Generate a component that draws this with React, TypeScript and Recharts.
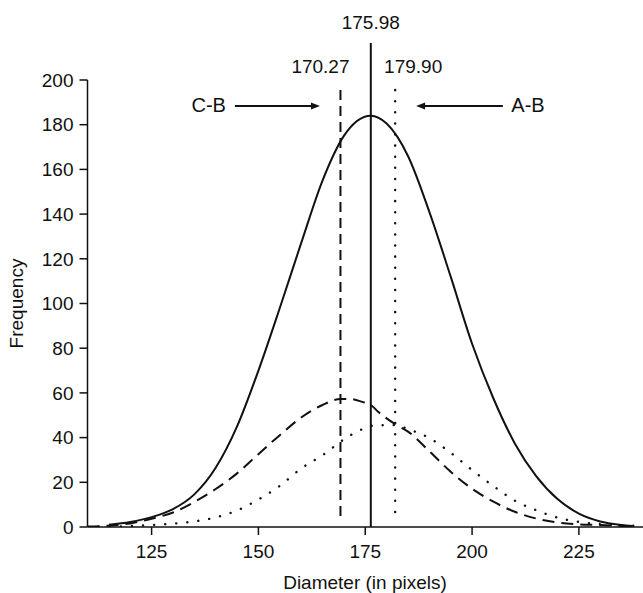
import React from 'react';
import { LineChart, Line, XAxis, YAxis, ReferenceLine } from 'recharts';

const FONT = '"Liberation Sans", Arial, Helvetica, sans-serif';
const INK = '#111111';

const xTicks = [125, 150, 175, 200, 225];
const yTicks = [0, 20, 40, 60, 80, 100, 120, 140, 160, 180, 200];

// Combined (solid) curve
const solidX = [115, 120, 125, 130, 135, 140, 145, 150, 155, 160, 165, 170, 176.3, 180, 185, 190, 195, 200, 205, 210, 215, 220, 225, 230, 235, 237.5];
const solidY = [1.0, 2.2, 4.4, 8.0, 14.6, 26.5, 45, 70, 98, 127, 155, 175, 184, 180.5, 166, 141, 112, 82, 57.5, 37.4, 22.8, 12.5, 6.0, 2.5, 0.9, 0.4];

// C-B (dashed) curve
const dashedX = [110, 115, 120, 125, 130, 135, 140, 145, 150, 155, 160, 165, 169.2, 171.5, 174.3, 176.3, 178, 182, 185, 190, 195, 200, 205, 210, 215, 220, 225, 230, 235, 238];
const dashedY = [0.2, 0.6, 1.6, 3.7, 6.5, 11.2, 17.0, 24, 32.6, 41.1, 49, 54.6, 57.3, 57.3, 56, 54.6, 51.6, 46, 42.7, 33.9, 24.7, 17.1, 11.3, 6.8, 3.8, 2.0, 1.2, 0.9, 0.5, 0.3];

// A-B (dotted) curve
const dottedX = [110, 115, 120, 125, 130, 135, 140, 145, 150, 155, 160, 165, 170, 174, 177, 182, 185, 190, 195, 200, 205, 210, 215, 220, 225, 230, 235, 239];
const dottedY = [0.1, 0.2, 0.4, 0.9, 1.5, 2.5, 4.3, 7.4, 12.3, 18.4, 26.2, 32.1, 39.2, 43.5, 45.4, 45.6, 43.8, 39.8, 33.2, 25.5, 18.3, 11.8, 7.5, 4.2, 2.3, 1.3, 0.8, 0.4];

// Mean markers (position) and their printed labels
const meanCB = 169.2;
const meanAll = 176.3;
const meanAB = 182;
const meanLabels = ['170.27', '175.98', '179.90'];

const toPoints = (xs: number[], ys: number[]) => xs.map((x, i) => ({ x, y: ys[i] }));
const solidData = toPoints(solidX, solidY);
const dashedData = toPoints(dashedX, dashedY);
const dottedData = toPoints(dottedX, dottedY);

const DOTTED = { strokeDasharray: '0.1 11', strokeLinecap: 'round' as const, strokeWidth: 2.4 };

const vLineShape = (label: string, dx: number, dy: number, style: any) => (p: any) => {
  const top = Math.min(p.y1, p.y2);
  return (
    <g>
      <line x1={p.x1} y1={p.y1} x2={p.x2} y2={p.y2} stroke={INK} strokeWidth={2} {...style} />
      <text x={p.x1 + dx} y={top + dy} textAnchor="middle" fontSize={19} fontFamily={FONT} fill={INK}>
        {label}
      </text>
    </g>
  );
};

const arrowShape = (label: string, side: 'left' | 'right') => (p: any) => {
  const dir = p.x2 > p.x1 ? 1 : -1;
  const y = p.y1;
  const headLen = 9;
  const tx = side === 'left' ? p.x1 - 9 : p.x1 + 8.5;
  return (
    <g>
      <line x1={p.x1} y1={y} x2={p.x2 - dir * (headLen - 1)} y2={y} stroke={INK} strokeWidth={2} />
      <polygon
        points={`${p.x2},${y} ${p.x2 - dir * headLen},${y - 3.5} ${p.x2 - dir * headLen},${y + 3.5}`}
        fill={INK}
      />
      <text x={tx} y={y + 6} textAnchor={side === 'left' ? 'end' : 'start'} fontSize={20} fontFamily={FONT} fill={INK}>
        {label}
      </text>
    </g>
  );
};

const tickStyle = { fontSize: 19, fontFamily: FONT, fill: INK };

export default function App() {
  return (
    <div style={{ position: 'absolute', left: 0, top: 0, background: '#fff' }}>
      <LineChart width={643} height={593} margin={{ top: 80, right: 0, bottom: 6, left: 27.5 }}>
        <XAxis
          type="number"
          dataKey="x"
          domain={[110, 240]}
          allowDataOverflow
          ticks={xTicks}
          tickSize={8}
          tickMargin={10}
          height={60}
          stroke={INK}
          strokeWidth={1.5}
          tick={tickStyle}
          tickLine={{ stroke: INK, strokeWidth: 1.5 }}
          axisLine={{ stroke: INK, strokeWidth: 1.5 }}
          label={() => (
            <text x={365} y={589} textAnchor="middle" fontSize={19} fontFamily={FONT} fill={INK}>
              Diameter (in pixels)
            </text>
          )}
        />
        <YAxis
          type="number"
          domain={[0, 200]}
          allowDataOverflow
          ticks={yTicks}
          tickSize={8}
          tickMargin={6}
          width={60}
          stroke={INK}
          strokeWidth={1.5}
          tick={tickStyle}
          tickLine={{ stroke: INK, strokeWidth: 1.5 }}
          axisLine={{ stroke: INK, strokeWidth: 1.5 }}
          label={() => (
            <text
              x={23}
              y={303.5}
              transform="rotate(-90, 23, 303.5)"
              textAnchor="middle"
              fontSize={19}
              fontFamily={FONT}
              fill={INK}
            >
              Frequency
            </text>
          )}
        />
        <Line data={solidData} dataKey="y" type="monotone" stroke={INK} strokeWidth={2} dot={false} isAnimationActive={false} />
        <Line data={dashedData} dataKey="y" type="monotone" stroke={INK} strokeWidth={2} strokeDasharray="12 7" dot={false} isAnimationActive={false} />
        <Line data={dottedData} dataKey="y" type="monotone" stroke={INK} {...DOTTED} dot={false} isAnimationActive={false} />
        <ReferenceLine
          segment={[{ x: meanAll, y: 0 }, { x: meanAll, y: 216.6 }]}
          ifOverflow="visible"
          shape={vLineShape(meanLabels[1], 0, -13.5, {})}
        />
        <ReferenceLine
          segment={[{ x: meanCB, y: 195.5 }, { x: meanCB, y: 3.1 }]}
          ifOverflow="visible"
          shape={vLineShape(meanLabels[0], -20, -17.3, { strokeDasharray: '10 6' })}
        />
        <ReferenceLine
          segment={[{ x: meanAB, y: 195.5 }, { x: meanAB, y: 2.2 }]}
          ifOverflow="visible"
          shape={vLineShape(meanLabels[2], 18, -17.3, DOTTED)}
        />
        <ReferenceLine
          segment={[{ x: 144.5, y: 188.4 }, { x: 164.4, y: 188.4 }]}
          ifOverflow="visible"
          shape={arrowShape('C-B', 'left')}
        />
        <ReferenceLine
          segment={[{ x: 207.2, y: 188.4 }, { x: 186.9, y: 188.4 }]}
          ifOverflow="visible"
          shape={arrowShape('A-B', 'right')}
        />
      </LineChart>
    </div>
  );
}
